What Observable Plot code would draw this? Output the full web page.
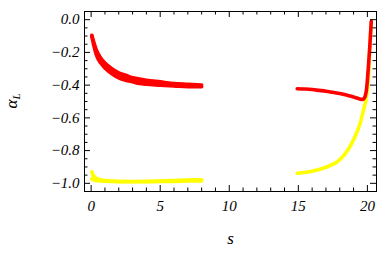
<!DOCTYPE html>
<html><head><meta charset="utf-8">
<script src="https://cdn.jsdelivr.net/npm/d3@7"></script>
<script src="https://cdn.jsdelivr.net/npm/@observablehq/plot@0.6"></script>
<style>body{margin:0;background:#fff}</style>
</head><body><div id="chart"></div>
<script>
// Left branch (s from ~0 to 8)
const sLeftRed = [0.05,0.2,0.4,0.7,1.0,1.5,2.0,2.5,3.0,3.5,4.0,5.0,6.0,7.0,8.0];
const redUpper = [-0.095,-0.14,-0.19,-0.235,-0.265,-0.30,-0.325,-0.34,-0.355,-0.362,-0.37,-0.38,-0.39,-0.395,-0.40];
const redLower = [-0.10,-0.16,-0.22,-0.265,-0.295,-0.33,-0.355,-0.37,-0.38,-0.39,-0.395,-0.40,-0.405,-0.41,-0.41];

const sLeftYellow = [0.05,0.15,0.3,0.5,1.0,2.0,3.0,4.0,5.0,6.0,7.0,8.0];
const yellowUpper = [-0.93,-0.95,-0.965,-0.975,-0.983,-0.988,-0.989,-0.988,-0.986,-0.983,-0.98,-0.978];
const yellowLower = [-0.975,-0.978,-0.982,-0.984,-0.987,-0.99,-0.99,-0.99,-0.989,-0.988,-0.986,-0.985];

// Right branch (s from ~15 to 20.3)
const sRightRed = [14.92,15.5,16.0,16.5,17.0,17.5,18.0,18.5,19.0,19.3,19.5,19.62,19.75,19.85,19.93,20.0,20.08,20.17,20.24,20.28];
const redRight = [-0.422,-0.424,-0.427,-0.432,-0.437,-0.444,-0.451,-0.461,-0.472,-0.480,-0.486,-0.487,-0.482,-0.465,-0.43,-0.37,-0.28,-0.17,-0.07,-0.01];

const sRightYellow = [14.92,16.0,17.2,17.93,18.65,19.14,19.5,19.74,19.91,20.0,20.08,20.15,20.22,20.27];
const yellowRight = [-0.938,-0.926,-0.895,-0.861,-0.789,-0.708,-0.627,-0.545,-0.483,-0.43,-0.35,-0.22,-0.10,-0.03];

// Ticks
const xMajor = [0,5,10,15,20];
const xMinor = [1,2,3,4,6,7,8,9,11,12,13,14,16,17,18,19];
const yMajor = [-1.0,-0.8,-0.6,-0.4,-0.2,0.0];
const yMinor = [-1.0,-0.95,-0.9,-0.85,-0.8,-0.75,-0.7,-0.65,-0.6,-0.55,-0.5,-0.45,-0.4,-0.35,-0.3,-0.25,-0.2,-0.15,-0.1,-0.05,0.0].filter(v => !yMajor.some(m => Math.abs(m - v) < 1e-9));

const xLabel = "s";
const yLabelMain = "α";
const yLabelSub = "L";

const W = 377, H = 262, mL = 84, mR = 1, mT = 11, mB = 71;
const innerW = W - mL - mR, innerH = H - mT - mB;
const major = 6, minor = 3.5;

const redLeft = sLeftRed.map((s, i) => ({s, hi: redUpper[i], lo: redLower[i]}));
const yelLeft = sLeftYellow.map((s, i) => ({s, hi: yellowUpper[i], lo: yellowLower[i]}));
const redR = sRightRed.map((s, i) => ({s, v: redRight[i]}));
const yelR = sRightYellow.map((s, i) => ({s, v: yellowRight[i]}));

const RED = "#ff0000", YEL = "#ffff00", SW = 3.6, curve = "monotone-x";

const plot = Plot.plot({
  width: W, height: H,
  marginLeft: mL, marginRight: mR, marginTop: mT, marginBottom: mB,
  x: {domain: [-0.48, 20.66]},
  y: {domain: [-1.05, 0.05]},
  style: {fontFamily: "'Liberation Serif', serif", fontSize: "15px", fontStyle: "italic", background: "white"},
  marks: [
    // yellow left band
    Plot.areaY(yelLeft, {x: "s", y1: "lo", y2: "hi", fill: YEL, curve}),
    Plot.lineY(yelLeft, {x: "s", y: "hi", stroke: YEL, strokeWidth: SW, curve}),
    Plot.lineY(yelLeft, {x: "s", y: "lo", stroke: YEL, strokeWidth: SW, curve}),
    // yellow right
    Plot.lineY(yelR, {x: "s", y: "v", stroke: YEL, strokeWidth: SW, curve}),
    // red left band
    Plot.areaY(redLeft, {x: "s", y1: "lo", y2: "hi", fill: RED, curve}),
    Plot.lineY(redLeft, {x: "s", y: "hi", stroke: RED, strokeWidth: SW, curve}),
    Plot.lineY(redLeft, {x: "s", y: "lo", stroke: RED, strokeWidth: SW, curve}),
    // red right
    Plot.lineY(redR, {x: "s", y: "v", stroke: RED, strokeWidth: SW, curve}),
    // frame
    Plot.frame({stroke: "black", strokeWidth: 1}),
    // inward ticks: bottom / top
    Plot.tickX(xMajor, {x: d => d, insetTop: innerH - major, stroke: "black"}),
    Plot.tickX(xMinor, {x: d => d, insetTop: innerH - minor, stroke: "black"}),
    Plot.tickX(xMajor, {x: d => d, insetBottom: innerH - major, stroke: "black"}),
    Plot.tickX(xMinor, {x: d => d, insetBottom: innerH - minor, stroke: "black"}),
    // left / right
    Plot.tickY(yMajor, {y: d => d, insetRight: innerW - major, stroke: "black"}),
    Plot.tickY(yMinor, {y: d => d, insetRight: innerW - minor, stroke: "black"}),
    Plot.tickY(yMajor, {y: d => d, insetLeft: innerW - major, stroke: "black"}),
    Plot.tickY(yMinor, {y: d => d, insetLeft: innerW - minor, stroke: "black"}),
    // tick labels
    Plot.axisX(xMajor, {tickSize: 0, tickPadding: 9, label: null, tickFormat: d3.format("d"), fill: "black"}),
    Plot.axisY(yMajor, {tickSize: 0, tickPadding: 5, label: null, tickFormat: d3.format(".1f"), fill: "black"}),
    // x label
    Plot.text([xLabel], {text: d => d, frameAnchor: "bottom", dy: 52, fontSize: 17, fill: "black"})
  ]
});

// y label with subscript
const svg = d3.select(plot);
const t = svg.append("text")
  .attr("transform", `translate(17,${mT + innerH / 2}) rotate(-90)`)
  .attr("text-anchor", "middle")
  .attr("font-size", 17)
  .attr("font-style", "italic")
  .attr("fill", "black");
t.append("tspan").text(yLabelMain);
t.append("tspan").attr("font-size", 11).attr("dy", 3).text(yLabelSub);

document.getElementById("chart").append(plot);
</script>
</body></html>
